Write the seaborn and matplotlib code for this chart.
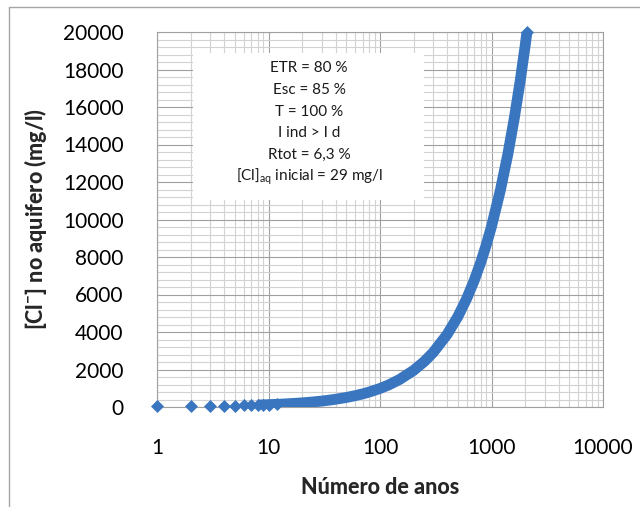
import matplotlib
matplotlib.use("Agg")
import matplotlib.pyplot as plt
import seaborn as sns
import pandas as pd
from matplotlib.ticker import FixedLocator, FixedFormatter, MultipleLocator, NullFormatter
from matplotlib.patches import Rectangle
from matplotlib.lines import Line2D

# ---- data ----
years = [1, 2, 3, 4, 5, 6, 7, 8, 9, 10, 12, 14, 16, 18, 20, 25, 30, 35, 40,
         50, 60, 70, 80, 100, 120, 150, 200, 250, 300, 400, 500, 600, 700,
         800, 900, 1000, 1200, 1400, 1600, 1800, 2000, 2080]
chloride = [38, 48, 58, 67, 77, 87, 96, 106, 115, 125, 144, 163, 183, 202,
            221, 269, 317, 365, 413, 509, 605, 701, 797, 989, 1180, 1470,
            1950, 2430, 2910, 3870, 4830, 5790, 6750, 7710, 8670, 9630,
            11550, 13470, 15390, 17310, 19230, 20000]
x_ticks = [1, 10, 100, 1000, 10000]
x_tick_labels = ["1", "10", "100", "1000", "10000"]
y_ticks = list(range(0, 20001, 2000))
annotation_lines = ["ETR = 80 %", "Esc = 85 %", "T = 100 %", "I ind > I d",
                    "Rtot = 6,3 %", r"[Cl]$_{\mathrm{aq}}$ inicial = 29 mg/l"]
x_label = "Número de anos"
y_label = r"[Cl$^{\mathbf{-}}$] no aquifero (mg/l)"

df = pd.DataFrame({"anos": years, "cl": chloride})
band = df[df["anos"] >= 8]
dots = df[(df["anos"] <= 12) | (df["anos"] == df["anos"].max())]

sns.set_theme(style="white")
plt.rcParams["font.family"] = ["Lato", "DejaVu Sans"]
plt.rcParams["mathtext.fontset"] = "custom"
plt.rcParams["mathtext.rm"] = "Lato"
plt.rcParams["mathtext.bf"] = "Lato:black"

color = "#3A76C0"
fig = plt.figure(figsize=(6.4, 5.07), dpi=100)
ax = fig.add_axes([157 / 640, 1 - 407 / 507, (603 - 157) / 640, (407 - 32) / 507])

sns.lineplot(data=band, x="anos", y="cl", ax=ax, color=color, linewidth=7.8,
             solid_capstyle="butt", solid_joinstyle="round", zorder=3)
sns.scatterplot(data=dots, x="anos", y="cl", ax=ax, color=color, marker="D",
                s=44, linewidth=0, zorder=4, clip_on=False)

ax.set_xscale("log")
ax.set_xlim(1, 10000)
ax.set_ylim(0, 20000)
ax.xaxis.set_major_locator(FixedLocator(x_ticks))
ax.xaxis.set_major_formatter(FixedFormatter(x_tick_labels))
ax.xaxis.set_minor_locator(FixedLocator([m * 10 ** e for e in range(4) for m in range(2, 10)]))
ax.xaxis.set_minor_formatter(NullFormatter())
ax.yaxis.set_major_locator(FixedLocator(y_ticks))
ax.yaxis.set_minor_locator(MultipleLocator(400))

ax.set_axisbelow(True)
ax.grid(which="major", color="#a0a0a0", linewidth=0.8)
ax.grid(which="minor", color="#d2d2d2", linewidth=0.8)
for s in ax.spines.values():
    s.set_color("#a0a0a0")
    s.set_linewidth(0.8)

ax.tick_params(axis="both", which="both", length=0, labelsize=15, colors="black")
ax.tick_params(axis="x", pad=22)
ax.tick_params(axis="y", pad=24)

ax.set_xlabel(x_label, fontsize=15.5, fontweight="black", labelpad=14)
ax.set_ylabel(y_label, fontsize=15.5, fontweight="black", labelpad=10)

ax.add_patch(Rectangle((0.0807, 0.552), 0.518, 0.392, transform=ax.transAxes,
                       facecolor="white", edgecolor="none", zorder=1.5))
ys = [0.904, 0.845, 0.787, 0.731, 0.672, 0.613]
for t, yy in zip(annotation_lines, ys):
    ax.text(0.3408, yy, t, transform=ax.transAxes, ha="center", va="center",
            fontsize=11, color="#1a1a1a", zorder=2)

fig.add_artist(Line2D([9 / 640, 1.0], [1 - 7 / 507, 1 - 7 / 507],
                      transform=fig.transFigure, color="#a6a6a6", linewidth=1))
fig.add_artist(Line2D([9 / 640, 9 / 640], [0.0, 1 - 7 / 507],
                      transform=fig.transFigure, color="#a6a6a6", linewidth=1))

fig.savefig("out.png", dpi=100)
